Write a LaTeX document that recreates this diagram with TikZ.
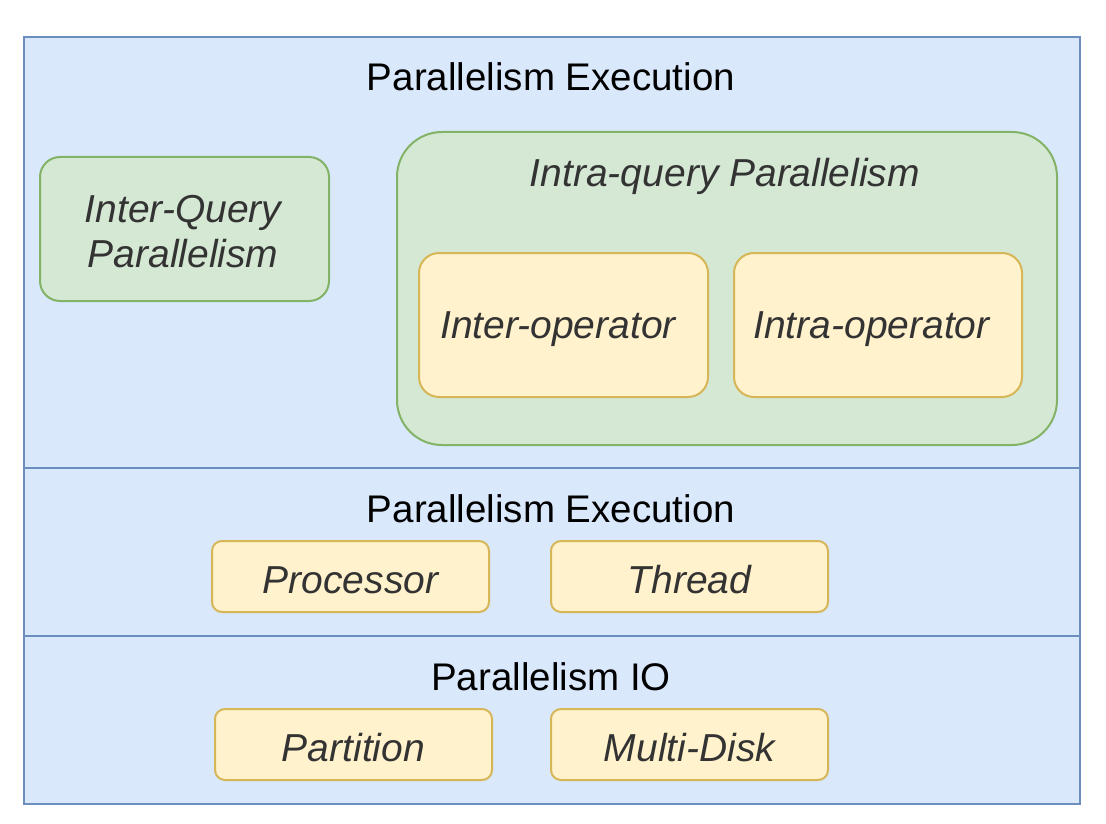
\documentclass[tikz,border=0pt]{standalone}
\usepackage{fontspec}
\setmainfont{Liberation Sans}
\definecolor{bandfill}{HTML}{DAE8FC}
\definecolor{banddraw}{HTML}{6C8EBF}
\definecolor{gfill}{HTML}{D5E8D4}
\definecolor{gdraw}{HTML}{82B366}
\definecolor{yfill}{HTML}{FFF2CC}
\definecolor{ydraw}{HTML}{D6B656}
\definecolor{txt}{HTML}{333333}
\tikzset{
  band/.style={draw=banddraw, fill=bandfill, line width=2pt, rectangle, inner sep=0pt},
  gbox/.style={draw=gdraw, fill=gfill, line width=2pt, rectangle, inner sep=0pt, rounded corners=#1},
  ybox/.style={draw=ydraw, fill=yfill, line width=2pt, rectangle, inner sep=0pt, rounded corners=#1},
  itxt/.style={text=txt, font=\fontsize{39}{45}\selectfont\itshape, align=center, inner sep=0pt},
  ttl/.style={text=black, font=\fontsize{38.5}{45}\selectfont, inner sep=0pt}
}
\begin{document}
\begin{tikzpicture}[x=1pt,y=-1pt]
\useasboundingbox (0,0) rectangle (1106,824);
% bands
\node[band, minimum width=1056pt, minimum height=431pt] (b1) at (552,252.5) {};
\node[band, minimum width=1056pt, minimum height=168pt] (b2) at (552,552) {};
\node[band, minimum width=1056pt, minimum height=168pt] (b3) at (552,720) {};
% titles
\node[ttl] (t1) at (551,77) {Parallelism Execution};
\node[ttl] (t2) at (551,509) {Parallelism Execution};
\node[ttl] (t3) at (551,677) {Parallelism IO};
% inter-query
\node[gbox=20pt, minimum width=289pt, minimum height=144pt] (interq) at (184.5,229) {};
\node[itxt] (interqt) at (183,232) {Inter-Query\\Parallelism};
% intra-query
\node[gbox=45pt, minimum width=660pt, minimum height=313pt] (intraq) at (727,288.5) {};
\node[itxt] (intraqt) at (725,176) {Intra-query Parallelism};
\node[ybox=20pt, minimum width=289pt, minimum height=144pt] (interop) at (563.5,325) {};
\node[itxt] (interopt) at (558,329) {Inter-operator};
\node[ybox=20pt, minimum width=288pt, minimum height=144pt] (intraop) at (878,325) {};
\node[itxt] (intraopt) at (871.5,329) {Intra-operator};
% execution
\node[ybox=10pt, minimum width=277pt, minimum height=71pt] (proc) at (350.5,576.5) {};
\node[itxt] (proct) at (350.5,580) {Processor};
\node[ybox=10pt, minimum width=277pt, minimum height=71pt] (thread) at (689.5,576.5) {};
\node[itxt] (threadt) at (689.5,580) {Thread};
% io
\node[ybox=10pt, minimum width=277pt, minimum height=71pt] (part) at (353.5,744.5) {};
\node[itxt] (partt) at (353.5,748) {Partition};
\node[ybox=10pt, minimum width=277pt, minimum height=71pt] (disk) at (689.5,744.5) {};
\node[itxt] (diskt) at (689.5,748) {Multi-Disk};
\end{tikzpicture}
\end{document}
